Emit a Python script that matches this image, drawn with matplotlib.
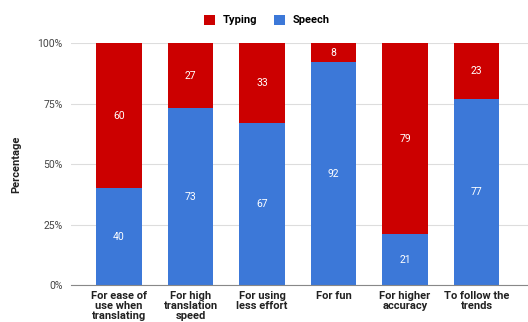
import matplotlib.pyplot as plt
import numpy as np

categories = ['For ease of\nuse when\ntranslating', 'For high\ntranslation\nspeed',
              'For using\nless effort', 'For fun', 'For higher\naccuracy',
              'To follow the\ntrends']
speech = [40, 73, 67, 92, 21, 77]
typing = [60, 27, 33, 8, 79, 23]

red = '#cc0000'
blue = '#3c78d8'

plt.rcParams['font.family'] = ['Roboto', 'DejaVu Sans']

fig = plt.figure(figsize=[5.28, 3.22], dpi=100)
ax = fig.add_axes([0.1345, 0.115, 0.8655, 0.751])

x = np.arange(len(categories))
w = 0.64
b1 = ax.bar(x, speech, w, color=blue, label='Speech', zorder=3)
b2 = ax.bar(x, typing, w, bottom=speech, color=red, label='Typing', zorder=3)

for i in range(len(x)):
    ax.text(x[i], speech[i] / 2, str(speech[i]), ha='center', va='center',
            color='white', fontsize=7.5, zorder=4)
    ax.text(x[i], speech[i] + typing[i] / 2, str(typing[i]), ha='center', va='center',
            color='white', fontsize=7.5, zorder=4)

ax.set_xlim(-0.67, 5.72)
ax.set_ylim(0, 100)
ax.set_yticks([0, 25, 50, 75, 100])
ax.set_yticklabels(['0%', '25%', '50%', '75%', '100%'], color='#444444', fontsize=7.5)
ax.set_xticks(x)
ax.set_xticklabels(categories, fontsize=8, fontweight='bold', color='#222222',
                   linespacing=1.0, va='top')
ax.tick_params(axis='x', length=0, pad=4)
ax.tick_params(axis='y', length=0, pad=6)
ax.grid(axis='y', color='#dddddd', linewidth=0.8, zorder=0)
for s in ['top', 'right', 'left']:
    ax.spines[s].set_visible(False)
ax.spines['bottom'].set_color('#888888')
ax.spines['bottom'].set_zorder(5)

ax.set_ylabel('Percentage', fontsize=8, fontweight='bold', color='#222222', labelpad=12)

fig.legend(handles=[b2, b1], labels=['Typing', 'Speech'], loc='center',
           bbox_to_anchor=(0.505, 0.938), ncol=2, frameon=False,
           prop={'size': 8, 'weight': 'bold'}, handlelength=1.0, handleheight=1.0,
           columnspacing=1.5, handletextpad=0.7)

fig.savefig('out.png', dpi=100)
